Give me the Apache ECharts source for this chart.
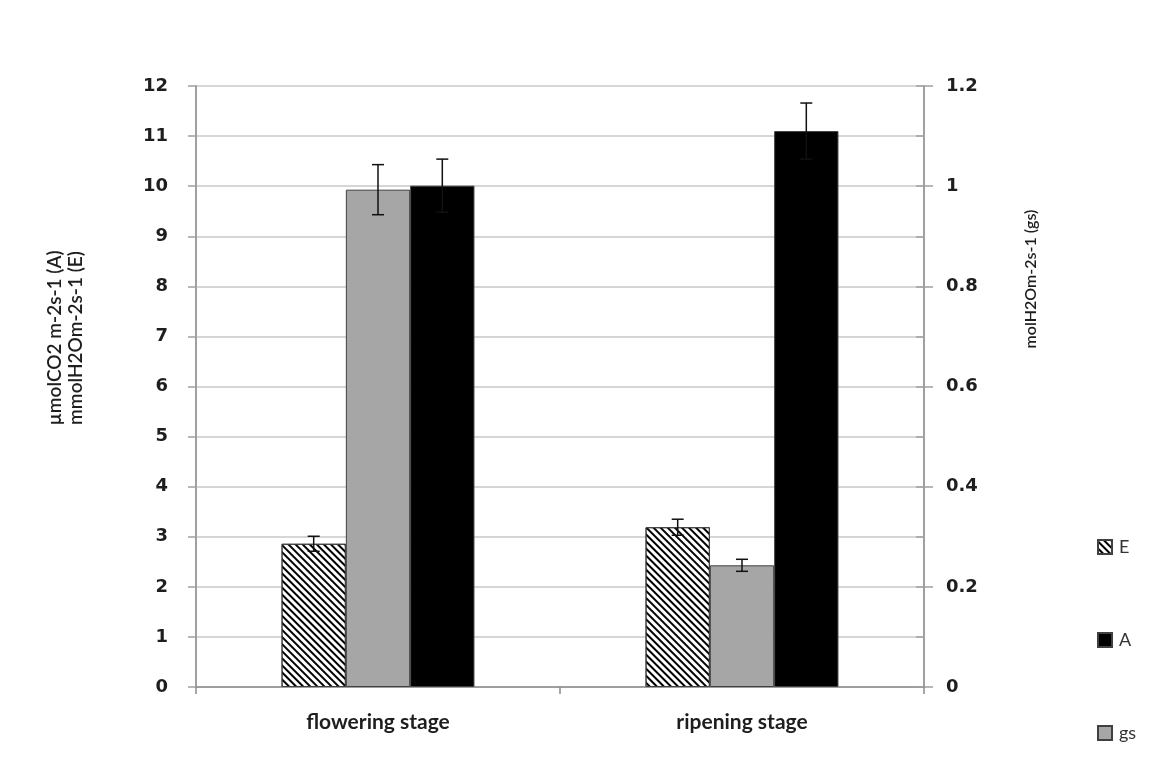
<!DOCTYPE html>
<html>
<head>
<meta charset="utf-8">
<script src="https://cdn.jsdelivr.net/npm/echarts@6/dist/echarts.min.js"></script>
<style>
  html, body { margin: 0; padding: 0; background: #fff; }
  #chart { width: 1159px; height: 765px; }
</style>
</head>
<body>
<div id="chart"></div>
<script>
// Gas exchange at two grape stages
const stages = ['flowering stage', 'ripening stage'];
const eValues = [2.86, 3.19];     // transpiration E (left axis)
const eErrors = [0.15, 0.16];
const gsValues = [0.993, 0.243];  // stomatal conductance gs (right axis)
const gsErrors = [0.05, 0.012];
const aValues = [10.01, 11.1];    // assimilation A (left axis)
const aErrors = [0.53, 0.56];
const leftTicks = [0, 12, 1];
const rightTicks = [0, 1.2, 0.2];

const FONT = 'Lato, "Open Sans", sans-serif';
const NUM_FONT = '"DejaVu Sans", sans-serif';
const CAT_GAP = 0.47;

function errorSeries(name, values, errors, yAxisIndex, slot) {
  return {
    type: 'custom',
    name: name + ' err',
    yAxisIndex: yAxisIndex,
    silent: true,
    z: 5,
    data: values.map((v, i) => [i, v, errors[i]]),
    renderItem: function (params, api) {
      const idx = api.value(0), v = api.value(1), e = api.value(2);
      const catW = api.size([1, 0])[0];
      const barW = catW * (1 - CAT_GAP) / 3;
      const cx = api.coord([idx, v])[0] + slot * barW;
      const yTop = api.coord([idx, v + e])[1];
      const yBot = api.coord([idx, v - e])[1];
      const cap = 6;
      const style = { stroke: '#111', lineWidth: 1.5 };
      return {
        type: 'group',
        children: [
          { type: 'line', shape: { x1: cx, y1: yTop, x2: cx, y2: yBot }, style: style },
          { type: 'line', shape: { x1: cx - cap, y1: yTop, x2: cx + cap, y2: yTop }, style: style },
          { type: 'line', shape: { x1: cx - cap, y1: yBot, x2: cx + cap, y2: yBot }, style: style }
        ]
      };
    }
  };
}

const chart = echarts.init(document.getElementById('chart'), null, { renderer: 'canvas' });

const tickLabelStyle = { fontFamily: NUM_FONT, fontWeight: 'bold', fontSize: 18, color: '#1e1e1e' };

chart.setOption({
  backgroundColor: '#fff',
  animation: false,
  grid: { left: 196, right: 235, top: 86, bottom: 78, containLabel: false },
  legend: {
    orient: 'vertical',
    left: 1097,
    top: 538,
    padding: 0,
    itemWidth: 14,
    itemHeight: 14,
    itemGap: 75,
    icon: 'rect',
    data: ['E', 'A', 'gs'],
    textStyle: { fontFamily: FONT, fontSize: 18, color: '#333', padding: [0, 0, 0, 2] }
  },
  xAxis: {
    type: 'category',
    data: stages,
    axisLine: { lineStyle: { color: '#8c8c8c', width: 1.5 } },
    axisTick: { show: true, length: 7, lineStyle: { color: '#8c8c8c', width: 1.5 } },
    axisLabel: { margin: 25, fontFamily: FONT, fontWeight: 'bold', fontSize: 21, color: '#1e1e1e' }
  },
  yAxis: [
    {
      type: 'value',
      min: leftTicks[0], max: leftTicks[1], interval: leftTicks[2],
      position: 'left',
      axisLine: { show: true, lineStyle: { color: '#a0a0a0', width: 2 } },
      axisTick: { show: true, length: 8, lineStyle: { color: '#a0a0a0', width: 1.5 } },
      axisLabel: Object.assign({ margin: 28 }, tickLabelStyle),
      splitLine: { show: true, lineStyle: { color: '#c9c9c9', width: 1.5 } }
    },
    {
      type: 'value',
      min: rightTicks[0], max: rightTicks[1], interval: rightTicks[2],
      position: 'right',
      axisLine: { show: true, lineStyle: { color: '#a0a0a0', width: 2 } },
      axisTick: { show: true, length: 9, lineStyle: { color: '#a0a0a0', width: 1.5 } },
      axisLabel: Object.assign({ margin: 22, formatter: v => String(+v.toFixed(1)) }, tickLabelStyle),
      splitLine: { show: false }
    },
    {
      // inner ticks on the right axis (every 0.1)
      type: 'value',
      min: rightTicks[0], max: rightTicks[1], interval: rightTicks[2] / 2,
      position: 'right',
      axisLine: { show: false },
      axisTick: { show: true, inside: true, length: 8, lineStyle: { color: '#a0a0a0', width: 1.5 } },
      axisLabel: { show: false },
      splitLine: { show: false }
    }
  ],
  graphic: [
    {
      type: 'text',
      x: 65, y: 338,
      rotation: Math.PI / 2,
      style: {
        text: 'µmolCO2 m-2s-1 (A)\nmmolH2Om-2s-1 (E)',
        fontFamily: FONT, fontSize: 19, fontWeight: 600, fill: '#1e1e1e',
        align: 'center', verticalAlign: 'middle', lineHeight: 21
      }
    },
    {
      type: 'text',
      x: 1031, y: 279,
      rotation: Math.PI / 2,
      style: {
        text: 'molH2Om-2s-1 (gs)',
        fontFamily: FONT, fontSize: 16, fontWeight: 600, fill: '#1e1e1e',
        align: 'center', verticalAlign: 'middle'
      }
    }
  ],
  series: [
    {
      name: 'E',
      type: 'bar',
      yAxisIndex: 0,
      barGap: '0%',
      barCategoryGap: (CAT_GAP * 100) + '%',
      data: eValues,
      itemStyle: {
        color: '#ffffff',
        borderColor: '#404040',
        borderWidth: 1,
        decal: {
          symbol: 'rect', symbolSize: 1,
          dashArrayX: [1, 0], dashArrayY: [1.8, 3],
          rotation: Math.PI / 4,
          color: '#000'
        }
      }
    },
    {
      name: 'gs',
      type: 'bar',
      yAxisIndex: 1,
      data: gsValues,
      itemStyle: { color: '#a6a6a6', borderColor: '#404040', borderWidth: 1 }
    },
    {
      name: 'A',
      type: 'bar',
      yAxisIndex: 0,
      data: aValues,
      itemStyle: { color: '#000000', borderColor: '#404040', borderWidth: 1 }
    },
    errorSeries('E', eValues, eErrors, 0, -1),
    errorSeries('gs', gsValues, gsErrors, 1, 0),
    errorSeries('A', aValues, aErrors, 0, 1)
  ]
});
</script>
</body>
</html>
